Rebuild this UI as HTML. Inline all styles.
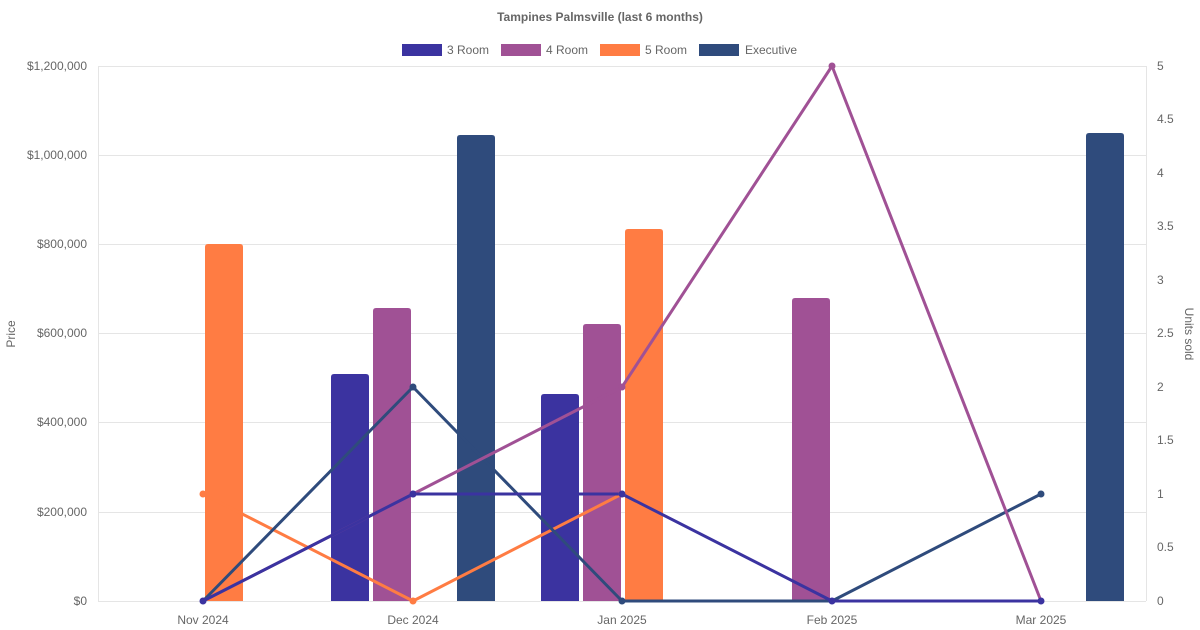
<!DOCTYPE html>
<html><head><meta charset="utf-8"><style>body{margin:0;background:#fff}svg{display:block;font-family:"Liberation Sans",sans-serif}</style></head><body>
<svg width="1200" height="630" viewBox="0 0 1200 630">
<text x="600" y="21" text-anchor="middle" font-size="12" font-weight="bold" fill="#666">Tampines Palmsville (last 6 months)</text>
<g font-size="12" fill="#666">
<rect x="402" y="44" width="40" height="12" fill="#3b33a0"/><text x="447" y="54">3 Room</text>
<rect x="501" y="44" width="40" height="12" fill="#a05195"/><text x="546" y="54">4 Room</text>
<rect x="600" y="44" width="40" height="12" fill="#ff7c43"/><text x="645" y="54">5 Room</text>
<rect x="699" y="44" width="40" height="12" fill="#2f4b7c"/><text x="745" y="54">Executive</text>
</g>
<g stroke="#e5e5e5" stroke-width="1">
<line x1="98" y1="66.5" x2="1146" y2="66.5"/><line x1="98" y1="155.5" x2="1146" y2="155.5"/><line x1="98" y1="244.5" x2="1146" y2="244.5"/><line x1="98" y1="333.5" x2="1146" y2="333.5"/><line x1="98" y1="422.5" x2="1146" y2="422.5"/><line x1="98" y1="512.5" x2="1146" y2="512.5"/><line x1="98" y1="601.5" x2="1146" y2="601.5"/>
<line x1="98.5" y1="66" x2="98.5" y2="601"/><line x1="1146.5" y1="66" x2="1146.5" y2="601"/>
</g>
<g font-size="12" fill="#666" text-anchor="end">
<text x="87" y="70">$1,200,000</text><text x="87" y="159">$1,000,000</text><text x="87" y="248">$800,000</text><text x="87" y="337">$600,000</text><text x="87" y="426">$400,000</text><text x="87" y="516">$200,000</text><text x="87" y="605">$0</text>
</g>
<g font-size="12" fill="#666">
<text x="1157" y="70">5</text><text x="1157" y="123">4.5</text><text x="1157" y="177">4</text><text x="1157" y="230">3.5</text><text x="1157" y="284">3</text><text x="1157" y="337">2.5</text><text x="1157" y="391">2</text><text x="1157" y="444">1.5</text><text x="1157" y="498">1</text><text x="1157" y="551">0.5</text><text x="1157" y="605">0</text>
</g>
<g font-size="12" fill="#666" text-anchor="middle">
<text x="203" y="624">Nov 2024</text><text x="413" y="624">Dec 2024</text><text x="622" y="624">Jan 2025</text><text x="832" y="624">Feb 2025</text><text x="1041" y="624">Mar 2025</text>
</g>
<text transform="translate(15,334) rotate(-90)" font-size="12" fill="#666" text-anchor="middle">Price</text>
<text transform="translate(1185,334) rotate(90)" font-size="12" fill="#666" text-anchor="middle">Units sold</text>
<g>
<path fill="#ff7c43" d="M205,601V247q0-3 3-3h32q3 0 3 3V601Z"/>
<path fill="#3b33a0" d="M331,601V377q0-3 3-3h32q3 0 3 3V601Z"/>
<path fill="#a05195" d="M373,601V311q0-3 3-3h32q3 0 3 3V601Z"/>
<path fill="#2f4b7c" d="M457,601V138q0-3 3-3h32q3 0 3 3V601Z"/>
<path fill="#3b33a0" d="M541,601V397q0-3 3-3h32q3 0 3 3V601Z"/>
<path fill="#a05195" d="M583,601V327q0-3 3-3h32q3 0 3 3V601Z"/>
<path fill="#ff7c43" d="M625,601V232q0-3 3-3h32q3 0 3 3V601Z"/>
<path fill="#a05195" d="M792,601V301q0-3 3-3h32q3 0 3 3V601Z"/>
<path fill="#2f4b7c" d="M1086,601V136q0-3 3-3h32q3 0 3 3V601Z"/>
</g>
<g fill="none" stroke-width="3" stroke-linejoin="round">
<polyline stroke="#ff7c43" points="203,494 413,601 622,494"/>
<polyline stroke="#2f4b7c" points="203,601 413,387 622,601 832,601 1041,494"/>
<polyline stroke="#a05195" points="203,601 413,494 622,387 832,66 1041,601"/>
<polyline stroke="#3b33a0" points="203,601 413,494 622,494 832,601 1041,601"/>
</g>
<g>
<circle cx="203" cy="494" r="3.5" fill="#ff7c43"/><circle cx="413" cy="601" r="3.5" fill="#ff7c43"/><circle cx="622" cy="494" r="3.5" fill="#ff7c43"/>
<circle cx="413" cy="387" r="3.5" fill="#2f4b7c"/><circle cx="622" cy="601" r="3.5" fill="#2f4b7c"/><circle cx="1041" cy="494" r="3.5" fill="#2f4b7c"/>
<circle cx="622" cy="387" r="3.5" fill="#a05195"/><circle cx="832" cy="66" r="3.5" fill="#a05195"/><circle cx="413" cy="494" r="3.5" fill="#a05195"/>
<circle cx="203" cy="601" r="3.5" fill="#3b33a0"/><circle cx="413" cy="494" r="3.5" fill="#3b33a0"/><circle cx="622" cy="494" r="3.5" fill="#3b33a0"/><circle cx="832" cy="601" r="3.5" fill="#3b33a0"/><circle cx="1041" cy="601" r="3.5" fill="#3b33a0"/>
</g>
</svg>
</body></html>
